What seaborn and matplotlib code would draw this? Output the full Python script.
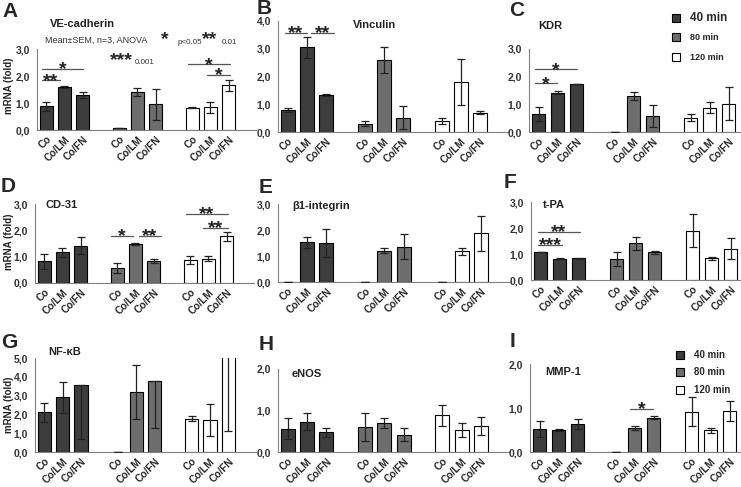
import numpy as np
import pandas as pd
import seaborn as sns
import matplotlib.pyplot as plt
from matplotlib.patches import Rectangle
from matplotlib.ticker import FuncFormatter

sns.set_style("white")
plt.rcParams["font.family"] = ["Liberation Sans", "DejaVu Sans"]

W, H = 741, 487

conditions = ["Co", "Co/LM", "Co/FN"]
times = ["40 min", "80 min", "120 min"]
time_colors = {"40 min": "#3d3d3d", "80 min": "#6d6d6d", "120 min": "#ffffff"}

# values per panel, order: 40 min (Co, Co/LM, Co/FN), 80 min (...), 120 min (...)
vecad_mean = [0.88, 1.60, 1.30, 0.07, 1.42, 0.95, 0.83, 0.84, 1.65]
vecad_sem = [0.17, 0.04, 0.10, 0.01, 0.15, 0.57, 0.03, 0.20, 0.20]

vinc_mean = [0.80, 3.05, 1.33, 0.30, 2.60, 0.52, 0.40, 1.80, 0.70]
vinc_sem = [0.08, 0.38, 0.03, 0.09, 0.48, 0.42, 0.10, 0.82, 0.05]

kdr_mean = [0.65, 1.42, 1.75, 0.0, 1.30, 0.57, 0.52, 0.88, 1.02]
kdr_sem = [0.27, 0.06, 0.0, 0.0, 0.15, 0.40, 0.12, 0.20, 0.60]

cd31_mean = [0.82, 1.17, 1.42, 0.57, 1.48, 0.84, 0.88, 0.92, 1.77]
cd31_sem = [0.28, 0.17, 0.32, 0.20, 0.05, 0.07, 0.15, 0.10, 0.17]

itgb1_mean = [0.0, 1.52, 1.50, 0.0, 1.20, 1.35, 0.0, 1.18, 1.87]
itgb1_sem = [0.0, 0.20, 0.55, 0.0, 0.10, 0.48, 0.0, 0.13, 0.66]

tpa_mean = [1.07, 0.82, 0.83, 0.80, 1.41, 1.07, 1.90, 0.83, 1.20]
tpa_sem = [0.0, 0.01, 0.03, 0.27, 0.24, 0.06, 0.63, 0.05, 0.40]

nfkb_mean = [2.12, 2.90, 3.55, 0.0, 3.20, 3.78, 1.78, 1.72, 5.60]
nfkb_sem_lo = [0.50, 0.80, 2.85, 0.0, 1.45, 2.50, 0.13, 0.85, 4.50]
nfkb_sem_hi = [0.50, 0.80, 0.0, 0.0, 1.45, 0.0, 0.13, 0.85, 0.0]

enos_mean = [0.56, 0.73, 0.48, 0.60, 0.70, 0.42, 0.88, 0.54, 0.62]
enos_sem = [0.25, 0.20, 0.11, 0.33, 0.13, 0.16, 0.26, 0.17, 0.22]

mmp1_mean = [0.52, 0.50, 0.64, 0.0, 0.55, 0.78, 0.92, 0.49, 0.93]
mmp1_sem = [0.18, 0.03, 0.12, 0.0, 0.04, 0.04, 0.34, 0.06, 0.23]

# letter, gene, mean, err low, err high, ymax, box in px (left, top, right, bottom), title pos
panels = [
    ("A", "VE-cadherin", vecad_mean, vecad_sem, vecad_sem, 3, (37, 49, 256, 130), (50, 24)),
    ("B", "Vinculin", vinc_mean, vinc_sem, vinc_sem, 4, (278, 21, 509, 132), (353, 25)),
    ("C", "KDR", kdr_mean, kdr_sem, kdr_sem, 3, (529, 49, 757, 132), (538, 26)),
    ("D", "CD-31", cd31_mean, cd31_sem, cd31_sem, 3, (35, 204, 254, 283), (46, 205)),
    ("E", "β1-integrin", itgb1_mean, itgb1_sem, itgb1_sem, 3, (278, 204, 510, 282), (292, 206)),
    ("F", "t-PA", tpa_mean, tpa_sem, tpa_sem, 3, (531, 202, 759, 280), (543, 205)),
    ("G", "NF-κB", nfkb_mean, nfkb_sem_lo, nfkb_sem_hi, 5, (35, 358, 256, 452), (48, 352)),
    ("H", "eNOS", enos_mean, enos_sem, enos_sem, 2, (278, 369, 510, 452), (292, 374)),
    ("I", "MMP-1", mmp1_mean, mmp1_sem, mmp1_sem, 2, (530, 364, 758, 452), (545, 372)),
]

letter_pos = {"A": (2, 17), "B": (257, 14), "C": (509, 16), "D": (1, 192), "E": (259, 193),
              "F": (504, 188), "G": (1, 348), "H": (259, 350), "I": (510, 347)}

# significance brackets: panel, x from, x to (bar units), y, stars
sig_brackets = [
    ("A", 0.27, 2.52, 2.26, "*"), ("A", 0.27, 1.26, 1.85, "**"),
    ("A", 8.27, 10.58, 2.44, "*"), ("A", 9.32, 10.58, 2.04, "*"),
    ("B", 0.36, 1.50, 3.57, "**"), ("B", 1.71, 2.90, 3.57, "**"),
    ("C", 0.31, 2.50, 2.27, "*"), ("C", 0.31, 1.47, 1.77, "*"),
    ("D", 4.16, 5.37, 1.79, "*"), ("D", 5.70, 6.90, 1.79, "**"),
    ("D", 8.27, 10.58, 2.62, "**"), ("D", 9.20, 10.58, 2.09, "**"),
    ("F", 0.37, 2.58, 1.85, "**"), ("F", 0.37, 1.63, 1.35, "***"),
    ("I", 5.26, 6.47, 0.98, "*"),
]


def fx(x):
    return x / W


def fy(y):
    return 1 - y / H


fig = plt.figure(figsize=(W / 100, H / 100), dpi=100)
axes = {}

for letter, gene, mean, lo, hi, ymax, box, tpos in panels:
    l, t, r, b = box
    ax = fig.add_axes([fx(l), fy(b), (r - l) / W, (b - t) / H])
    axes[letter] = ax
    df = pd.DataFrame({
        "pos": [4 * g + c + 0.5 for g in range(3) for c in range(3)],
        "time": [tm for tm in times for _ in conditions],
        "mRNA": mean,
    })
    sns.barplot(data=df, x="pos", y="mRNA", hue="time", hue_order=times, palette=time_colors,
                native_scale=True, dodge=False, width=0.72, edgecolor="black", linewidth=0.8,
                errorbar=None, legend=False, ax=ax)
    ax.errorbar(df["pos"], df["mRNA"], yerr=[lo, hi], fmt="none", ecolor="#222222",
                elinewidth=0.9, capsize=3, capthick=0.9, zorder=3)

    ax.set_xlim(0, 12)
    ax.set_ylim(0, ymax)
    ax.set_xlabel("")
    ax.set_ylabel("")
    ax.set_yticks(np.arange(0, ymax + 0.01, 1))
    ax.yaxis.set_major_formatter(FuncFormatter(lambda v, p: f"{v:.1f}".replace(".", ",")))
    ax.set_xticks(df["pos"])
    ax.set_xticklabels(conditions * 3, rotation=45, ha="right", rotation_mode="anchor",
                       fontsize=7.3, fontweight="bold")
    ax.set_xticks([4, 8, 12], minor=True)
    ax.tick_params(axis="x", which="major", length=0, pad=3)
    ax.tick_params(axis="x", which="minor", length=4, width=0.8, color="#808080", direction="out")
    ax.tick_params(axis="y", length=3, width=0.8, color="#808080", direction="out",
                   labelsize=7.5, pad=2)
    for lab in ax.get_yticklabels():
        lab.set_fontweight("bold")
        lab.set_color("#333333")
    for side in ["top", "right"]:
        ax.spines[side].set_visible(False)
    for side in ["left", "bottom"]:
        ax.spines[side].set_color("#808080")
        ax.spines[side].set_linewidth(0.8)
    ax.patch.set_alpha(0)

    fig.text(fx(tpos[0]), fy(tpos[1]), gene, fontsize=8, fontweight="bold", va="center",
             ha="left", color="#222222")
    lx, ly = letter_pos[letter]
    fig.text(fx(lx), fy(ly), letter, fontsize=15, fontweight="bold", va="baseline", ha="left")

for letter, x1, x2, y, stars in sig_brackets:
    ax = axes[letter]
    ax.plot([x1, x2], [y, y], color="#555555", lw=0.9, clip_on=False)
    ax.annotate(stars, xy=((x1 + x2) / 2, y), xytext=(0, -4), textcoords="offset points",
                ha="center", va="baseline", fontsize=14, fontweight="bold", color="#222222",
                annotation_clip=False)

# y-axis labels on left column
for yc in [86, 242, 405]:
    fig.text(fx(9), fy(yc), "mRNA (fold)", rotation=90, fontsize=7, fontweight="bold",
             ha="center", va="center", color="#222222")

# statistics note in panel A
fig.text(fx(45), fy(40), "Mean±SEM, n=3, ANOVA", fontsize=6.5, va="center", ha="left", color="#333333")
fig.text(fx(161), fy(44), "*", fontsize=14, fontweight="bold", va="baseline", ha="left")
fig.text(fx(178), fy(42), "p<0.05", fontsize=5.8, va="center", ha="left", color="#333333")
fig.text(fx(202), fy(44), "**", fontsize=14, fontweight="bold", va="baseline", ha="left")
fig.text(fx(222), fy(42), "0.01", fontsize=5.8, va="center", ha="left", color="#333333")
fig.text(fx(110), fy(65), "***", fontsize=14, fontweight="bold", va="baseline", ha="left")
fig.text(fx(135), fy(62), "0.001", fontsize=5.8, va="center", ha="left", color="#333333")


def draw_legend(sq_x, text_x, rows, sizes):
    for tm, yy, fs in zip(times, rows, sizes):
        fig.add_artist(Rectangle((fx(sq_x), fy(yy + 4)), 8 / W, 8 / H, transform=fig.transFigure,
                                 facecolor=time_colors[tm], edgecolor="black", lw=0.8))
        fig.text(fx(text_x), fy(yy), tm, fontsize=fs, fontweight="bold", va="center", ha="left")


draw_legend(672, 690, [18, 37, 57], [8.5, 6.5, 6.5])
draw_legend(676, 694, [355, 372, 390], [7, 7, 7])

fig.savefig("out.png", dpi=100)
